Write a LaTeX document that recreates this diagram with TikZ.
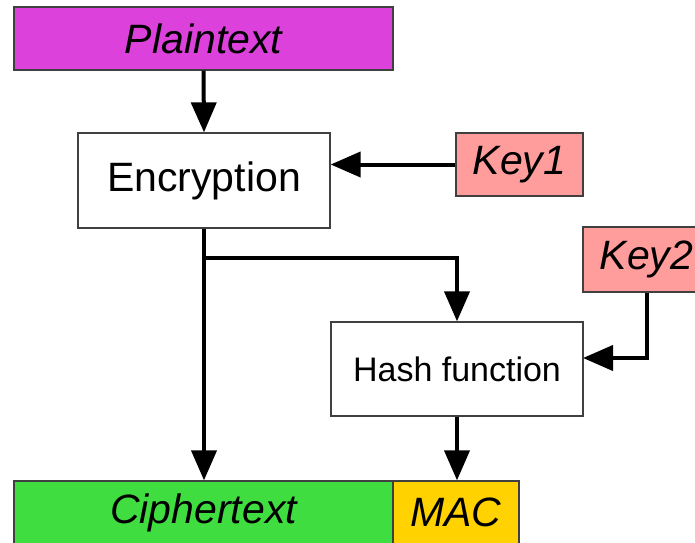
\documentclass[tikz,border=0pt]{standalone}
\usepackage{fontspec}
\setmainfont{Liberation Sans}
\usetikzlibrary{arrows.meta}
\definecolor{plainc}{HTML}{DC41DC}
\definecolor{keyc}{HTML}{FF9C9C}
\definecolor{ctc}{HTML}{40DD40}
\definecolor{macc}{HTML}{FFD200}
\definecolor{edgec}{HTML}{404040}
\tikzset{
  box/.style={draw=edgec, line width=1.3pt, rectangle, inner sep=0pt, anchor=center,
    font=\fontsize{41}{49}\selectfont},
  ibox/.style={box, font=\fontsize{41}{49}\selectfont\itshape},
  arr/.style={line width=4pt, draw=black, -{Triangle[length=30pt,width=25pt]}}
}
\begin{document}
\begin{tikzpicture}[x=1pt,y=-1pt]
\useasboundingbox (0,0) rectangle (695,542);
\node[ibox, fill=plainc, minimum width=379pt, minimum height=63pt] (plain) at (203.5,38.5) {Plaintext};
\node[box, fill=white, minimum width=252pt, minimum height=95pt] (enc) at (204,180.5) {Encryption};
\node[ibox, fill=keyc, minimum width=127pt, minimum height=63pt] (key1) at (519.5,164.5) {Key1};
\node[ibox, fill=keyc, minimum width=127pt, minimum height=65pt] (key2) at (646.5,259.5) {Key2};
\node[box, fill=white, minimum width=252pt, minimum height=94pt, font=\fontsize{34}{41}\selectfont] (hash) at (457,369) {Hash function};
\node[ibox, fill=ctc, minimum width=379pt, minimum height=63pt] (ct) at (203.5,512.5) {Ciphertext};
\node[ibox, fill=macc, minimum width=126pt, minimum height=63pt] (mac) at (456,512.5) {MAC};
\coordinate (br) at (204,258);
\coordinate (k2in) at (583,358);
\draw[arr] (plain.south) -- (enc.north);
\draw[arr] (key1.west) -- (key1.west -| enc.east);
\draw[arr] (enc.south) -- (enc.south |- ct.north);
\draw[arr] (br) -| (hash.north);
\draw[arr] (key2.south) |- (k2in);
\draw[arr] (hash.south) -- (hash.south |- mac.north);
\end{tikzpicture}
\end{document}
